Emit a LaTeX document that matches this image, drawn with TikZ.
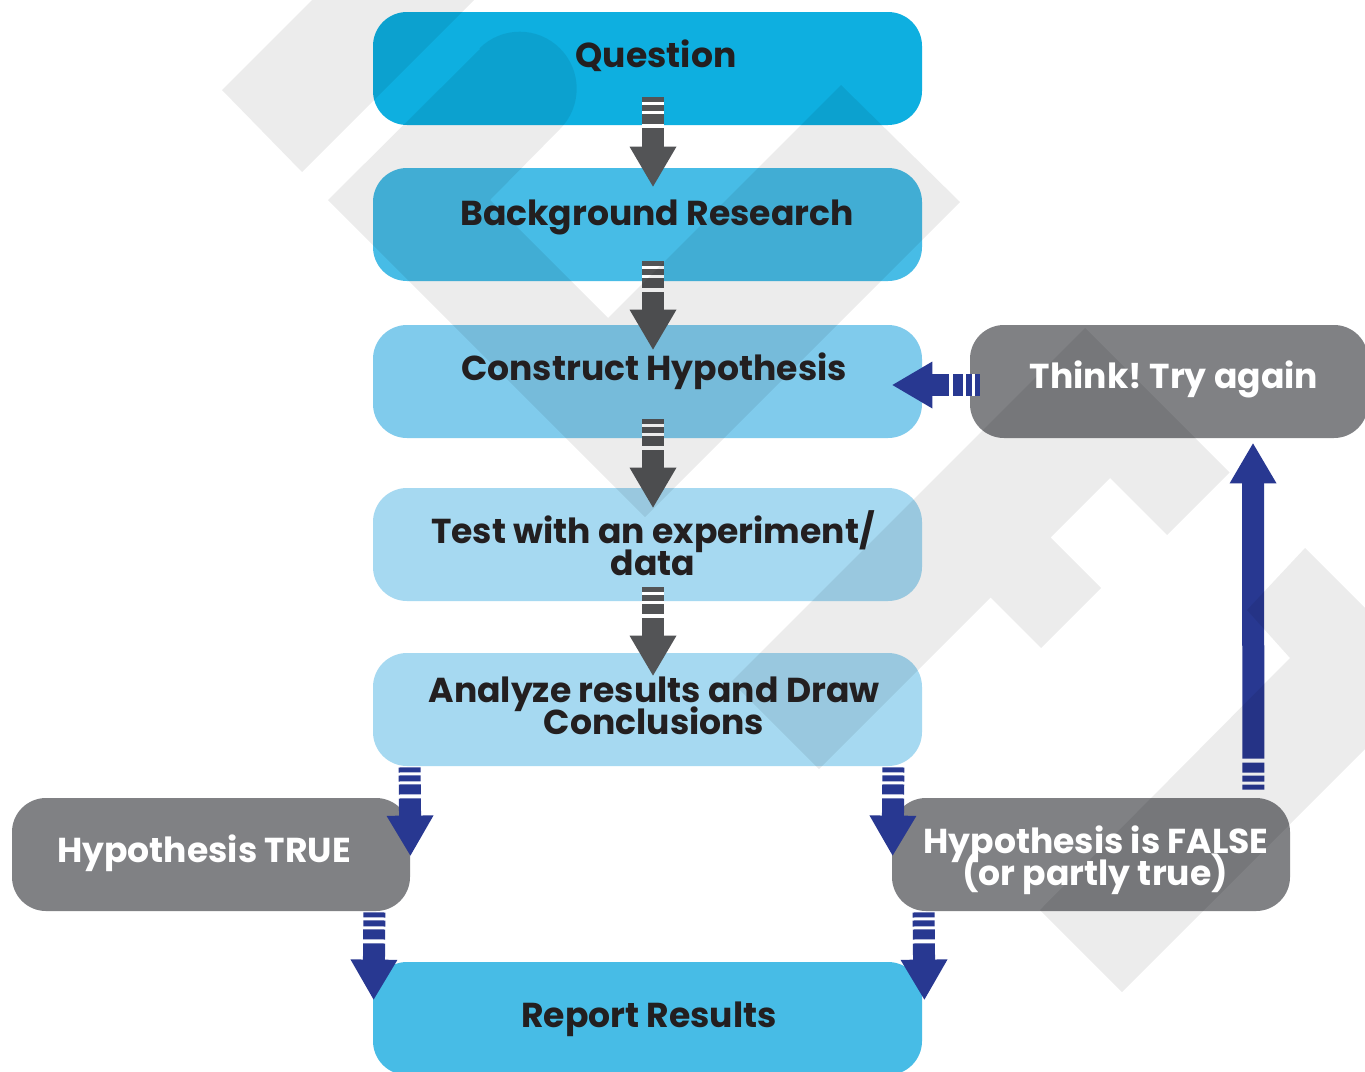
\documentclass[tikz,border=0pt]{standalone}
\usepackage{fontspec}
\setmainfont{Poppins}
\newfontfamily\lblfont{Poppins}[UprightFont=* Bold]
\usetikzlibrary{calc}
\frenchspacing

\definecolor{cyanA}{HTML}{0EAFE0}
\definecolor{cyanB}{HTML}{47BCE6}
\definecolor{cyanC}{HTML}{80CBEC}
\definecolor{cyanD}{HTML}{A6D9F1}
\definecolor{boxgrey}{HTML}{808184}
\definecolor{arrowgrey}{HTML}{535456}
\definecolor{navy}{HTML}{283891}
\definecolor{ink}{HTML}{231F20}

\tikzset{
  box/.style={rectangle, rounded corners=17pt, inner sep=0pt, draw=none,
    minimum width=274.5pt, minimum height=56.5pt},
  greybox/.style={box, fill=boxgrey, minimum width=199pt},
  lbl/.style={font={\lblfont\fontsize{17.3pt}{16pt}\selectfont}, text=ink,
    inner sep=0pt, text height=12.5pt, text depth=0pt},
  wlbl/.style={lbl, text=white},
  logomark/.style={fill=black, fill opacity=0.075}
}

% striped block arrow: #1 colour, #2 tail, #3 tip
\newcommand\fatarrow[3]{%
  \path (#2) coordinate (fa-t) (#3) coordinate (fa-h);
  \coordinate (fa-b) at ($(fa-h)!20pt!(fa-t)$);
  \draw[line width=11pt, white] (fa-t) -- ($(fa-t)!15.5pt!(fa-h)$);
  \draw[line width=11pt, #1]
    (fa-t) -- ($(fa-t)!2.5pt!(fa-h)$)
    ($(fa-t)!4pt!(fa-h)$) -- ($(fa-t)!7pt!(fa-h)$)
    ($(fa-t)!8.5pt!(fa-h)$) -- ($(fa-t)!13.5pt!(fa-h)$)
    ($(fa-t)!15.5pt!(fa-h)$) -- ($(fa-h)!19.5pt!(fa-t)$);
  \fill[#1] (fa-h) -- ($(fa-b)!11.75pt!90:(fa-h)$)
    -- ($(fa-b)!11.75pt!-90:(fa-h)$) -- cycle;
}

\begin{document}
\begin{tikzpicture}[x=0.5pt, y=-0.5pt]
\useasboundingbox (0,0) rectangle (1365,1071);
\clip (0,0) rectangle (1365,1071);
\fill[white] (0,0) rectangle (1365,1071);

% process boxes
\node[box, fill=cyanA] (q)  at (647.5,68.5)  {};
\node[box, fill=cyanB] (bg) at (647.5,224.5) {};
\node[box, fill=cyanC] (ch) at (647.5,381.5) {};
\node[box, fill=cyanD] (tx) at (647.5,544.5) {};
\node[box, fill=cyanD] (an) at (647.5,709.5) {};
\node[box, fill=cyanB] (rr) at (647.5,1018.5) {};
\node[greybox] (tk) at (1169,381.5) {};
\node[greybox] (ht) at (211,854.5) {};
\node[greybox] (hf) at (1091,854.5) {};

% main chain
\fatarrow{arrowgrey}{$(q.south)+(5.5,-28)$}{$(bg.north)+(5.5,19)$}
\fatarrow{arrowgrey}{$(bg.south)+(5.5,-20)$}{$(ch.north)+(5.5,25)$}
\fatarrow{arrowgrey}{$(ch.south)+(5.5,-19)$}{$(tx.north)+(5.5,20)$}
\fatarrow{arrowgrey}{$(tx.south)+(5.5,-14)$}{$(an.north)+(5.5,23)$}

% outcomes
\fatarrow{navy}{$(an.south west)+(37,1)$}{$(ht.north east)+(0,58)$}
\fatarrow{navy}{$(an.south east)+(-29,1)$}{$(hf.north west)+(1,58)$}
\fatarrow{navy}{$(ht.south east)+(-36,1)$}{$(rr.north west)+(1,38)$}
\fatarrow{navy}{$(hf.south west)+(32,1)$}{$(rr.north east)+(2,38)$}
\fatarrow{navy}{$(hf.north east)+(-37,-8)$}{$(tk.south)+(84,5)$}
\fatarrow{navy}{$(tk.west)+(10,3.5)$}{$(ch.east)+(-30,3.5)$}

% faint logo mark
\fill[logomark] (222,90) -- (302,172) -- (494,-20) -- (332,-20) -- cycle;
\fill[logomark] (480,49) -- (328,200) -- (645,517) -- (960,202) -- (841,85)
  -- (608,318) -- (490,200) -- (560,129)
  arc[start angle=45, end angle=-135, radius=57] -- cycle;
\fill[logomark] (731.5,681.5) -- (1085,328) -- (1229.5,472.5) -- (1167,535)
  -- (1110,478) -- (1050.5,537.5) -- (1101,588) -- (1041,648)
  -- (990.5,597.5) -- (819,769) -- cycle;
\fill[logomark] (1305,548) -- (1420,663) -- (1420,694) -- (1122,992)
  -- (1040,910) -- (1290,658) -- (1247,610) -- cycle;

% labels
\node[lbl] (qt)   at (656,55)   {Question};
\node[lbl] (bgt)  at (657,213)  {Background Research};
\node[lbl] (cht)  at (654,368)  {Construct Hypothesis};
\node[lbl] (txt1) at (653,531)  {Test with an experiment/};
\node[lbl] (txt2) at (653,563)  {data};
\node[lbl] (ant1) at (654,690)  {Analyze results and Draw};
\node[lbl] (ant2) at (654,722)  {Conclusions};
\node[lbl] (rrt)  at (649,1015) {Report Results};
\node[wlbl] (tkt)  at (1174,376) {Think! Try again};
\node[wlbl] (htt)  at (204,850)  {Hypothesis TRUE};
\node[wlbl] (hft1) at (1096,841) {Hypothesis is FALSE};
\node[wlbl] (hft2) at (1095,873) {(or partly true)};
\end{tikzpicture}
\end{document}
